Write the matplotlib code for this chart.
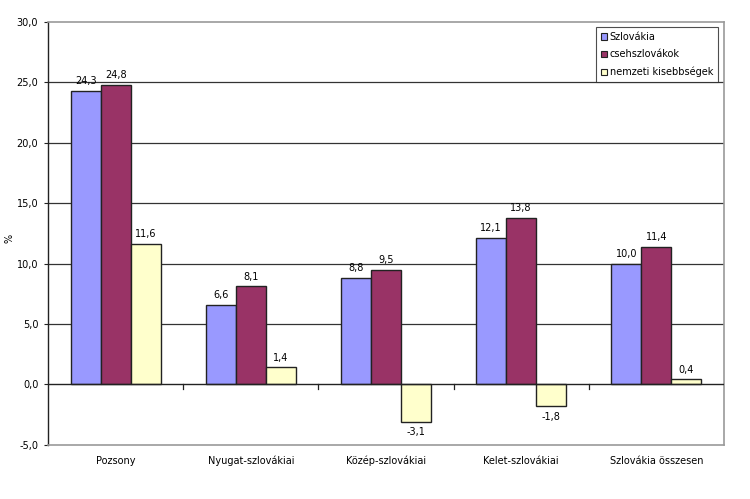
import matplotlib
matplotlib.use("Agg")
import matplotlib.pyplot as plt
import numpy as np
from matplotlib.ticker import FuncFormatter

categories = ["Pozsony", "Nyugat-szlovákiai", "Közép-szlovákiai", "Kelet-szlovákiai", "Szlovákia összesen"]
series_names = ["Szlovákia", "csehszlovákok", "nemzeti kisebbségek"]
szlovakia = [24.3, 6.6, 8.8, 12.1, 10.0]
csehszlovakok = [24.8, 8.1, 9.5, 13.8, 11.4]
nemzeti = [11.6, 1.4, -3.1, -1.8, 0.4]
colors = ["#9999FF", "#993366", "#FFFFCC"]

fig = plt.figure(figsize=(7.5, 4.99), dpi=100)
ax = fig.add_axes([0.064, 0.1088, 0.9013, 0.8471])

x = np.arange(len(categories))
w = 0.222
data = [szlovakia, csehszlovakok, nemzeti]
for i, (vals, c, name) in enumerate(zip(data, colors, series_names)):
    pos = x + (i - 1) * w
    ax.bar(pos, vals, width=w, color=c, edgecolor="#222222", linewidth=1.0, label=name, zorder=3)
    for xx, v in zip(pos, vals):
        txt = f"{v:.1f}".replace(".", ",")
        if v >= 0:
            ax.annotate(txt, (xx, v), xytext=(0, 3.5), textcoords="offset points",
                        ha="center", va="bottom", fontsize=7)
        else:
            ax.annotate(txt, (xx, v), xytext=(0, -4), textcoords="offset points",
                        ha="center", va="top", fontsize=7)

ax.set_xlim(-0.5, len(categories) - 0.5)
ax.set_ylim(-5, 30)
ax.set_yticks(np.arange(-5, 30.1, 5))
ax.yaxis.set_major_formatter(FuncFormatter(lambda v, p: f"{v:.1f}".replace(".", ",")))
for yv in [5, 10, 15, 20, 25]:
    ax.axhline(yv, color="#333333", linewidth=0.9, zorder=1)
ax.axhline(0, color="#222222", linewidth=1.0, zorder=4)

# category separator ticks on zero line
for b in np.arange(0.5, len(categories) - 1, 1.0):
    ax.plot([b, b], [0, -0.35], color="#222222", linewidth=0.9, zorder=4, clip_on=False)

ax.set_xticks(x)
ax.set_xticklabels(categories, fontsize=7)
ax.tick_params(axis="x", length=0, pad=8)
ax.tick_params(axis="y", labelsize=7, length=3, direction="out", color="#222222", pad=4)

for s in ["top", "right", "bottom"]:
    ax.spines[s].set_color("#9a9a9a")
    ax.spines[s].set_linewidth(1.2)
ax.spines["left"].set_color("#222222")
ax.spines["left"].set_linewidth(1.0)

fig.text(0.013, 0.523, "%", rotation=90, fontsize=7, ha="center", va="center")

leg = ax.legend(loc="upper right", bbox_to_anchor=(0.991, 0.988), borderaxespad=0, fontsize=7,
                frameon=True, fancybox=False, edgecolor="#222222", handlelength=0.6, handleheight=0.6,
                handletextpad=0.3, borderpad=0.5, labelspacing=0.75)
leg.get_frame().set_linewidth(0.8)
for h in leg.legend_handles:
    h.set_linewidth(0.8)

fig.savefig("out.png", dpi=100)
